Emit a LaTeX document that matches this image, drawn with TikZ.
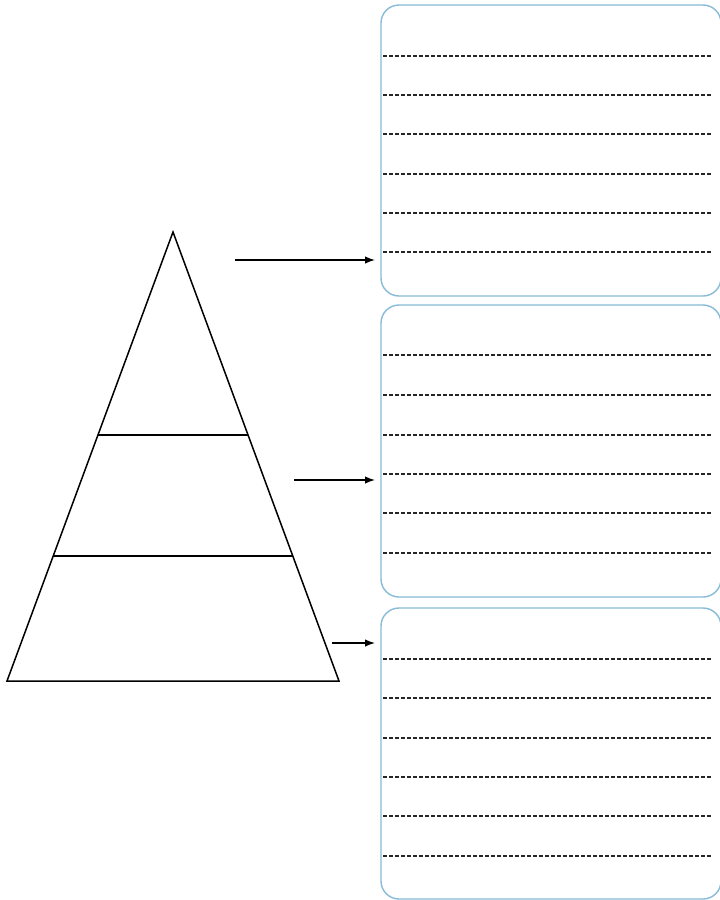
\documentclass[tikz,border=0pt]{standalone}
\usetikzlibrary{arrows.meta}
\definecolor{boxblue}{RGB}{135,187,216}
\tikzset{
  pyr/.style={line width=1.5pt, black, line join=miter},
  panel/.style={draw=boxblue, line width=1.4pt, rounded corners=18pt},
  rule/.style={line width=1.2pt, black!85, dash pattern=on 4pt off 2pt},
  pointer/.style={line width=1.4pt, -{Latex[length=10pt,width=7.5pt]}},
}
\begin{document}
\begin{tikzpicture}[x=1pt,y=-1pt]
\useasboundingbox[fill=white] (0,0) rectangle (720,900);
% pyramid
\coordinate (apex) at (173,232);
\coordinate (bl) at (7,681);
\coordinate (br) at (339,681);
\draw[pyr] (apex) -- (br) -- (bl) -- cycle;
\coordinate (l1a) at (98,435);
\coordinate (l1b) at (248,435);
\coordinate (l2a) at (53,556);
\coordinate (l2b) at (293,556);
\draw[pyr] (l1a) -- (l1b);
\draw[pyr] (l2a) -- (l2b);
% panels
\draw[panel] (381,5) rectangle (721,296);
\draw[panel] (381,305) rectangle (721,597);
\draw[panel] (381,608) rectangle (721,899);
% ruled lines
\foreach \y in {56,95,134,174,213,252, 355,395,435,474,513,553, 659,698,738,777,816,856}
  \draw[rule] (383,\y) -- (712,\y);
% arrows
\coordinate (a1s) at (235,260); \coordinate (a1e) at (375,260);
\coordinate (a2s) at (294,480); \coordinate (a2e) at (375,480);
\coordinate (a3s) at (332,643); \coordinate (a3e) at (375,643);
\draw[pointer] (a1s) -- (a1e);
\draw[pointer] (a2s) -- (a2e);
\draw[pointer] (a3s) -- (a3e);
\end{tikzpicture}
\end{document}
